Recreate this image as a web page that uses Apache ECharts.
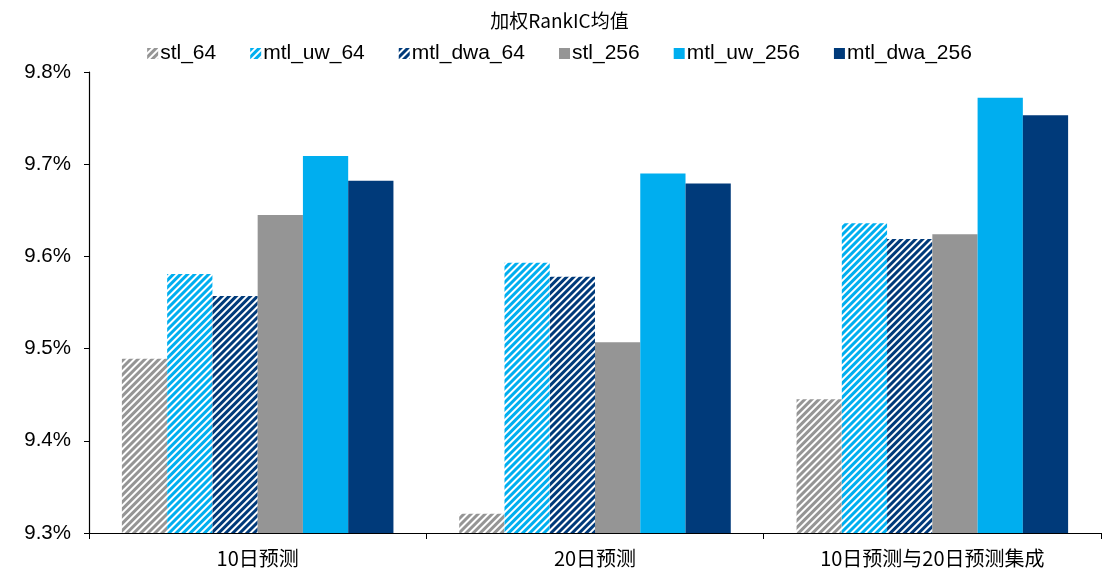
<!DOCTYPE html>
<html><head><meta charset="utf-8">
<script src="https://cdn.jsdelivr.net/npm/echarts@6/dist/echarts.min.js"></script>
<style>html,body{margin:0;padding:0;background:#fff}#c{width:1119px;height:582px}</style>
</head><body><div id="c"></div>
<script>
const categories = ['10日预测', '20日预测', '10日预测与20日预测集成'];
const seriesNames = ['stl_64', 'mtl_uw_64', 'mtl_dwa_64', 'stl_256', 'mtl_uw_256', 'mtl_dwa_256'];
const stl_64 = [9.489, 9.321, 9.445];
const mtl_uw_64 = [9.581, 9.593, 9.636];
const mtl_dwa_64 = [9.557, 9.578, 9.619];
const stl_256 = [9.645, 9.507, 9.624];
const mtl_uw_256 = [9.709, 9.690, 9.772];
const mtl_dwa_256 = [9.682, 9.679, 9.753];
const yTicks = [9.3, 9.4, 9.5, 9.6, 9.7, 9.8];

const values = [stl_64, mtl_uw_64, mtl_dwa_64, stl_256, mtl_uw_256, mtl_dwa_256];
const colors = ['#959595', '#00AEEF', '#003A7A', '#959595', '#00AEEF', '#003A7A'];
const striped = [true, true, true, false, false, false];

const chart = echarts.init(document.getElementById('c'), null, {renderer: 'canvas'});
const series = seriesNames.map((n, i) => {
  const s = {
    name: n, type: 'bar', data: values[i],
    barGap: '0%', barCategoryGap: '19.5%',
    itemStyle: {color: colors[i]}
  };
  if (striped[i]) {
    s.itemStyle = {
      color: '#ffffff',
      decal: {symbol: 'rect', symbolSize: 1, dashArrayX: [1, 0], dashArrayY: [2.3, 2],
              rotation: -Math.PI / 4, color: colors[i], backgroundColor: '#ffffff'}
    };
  }
  return s;
});

chart.setOption({
  animation: false,
  title: {text: '加权RankIC均值', left: 'center', top: 6,
    textStyle: {fontFamily: 'Noto Sans CJK SC', fontSize: 19, fontWeight: 'normal', color: '#000'}},
  legend: {data: seriesNames, top: 38, left: 'center', itemWidth: 11, itemHeight: 11, itemGap: 34,
    icon: 'rect',
    textStyle: {fontFamily: 'Liberation Sans', fontSize: 21, color: '#000', padding: [0, 0, 0, -3]}},
  grid: {left: 89, right: 18, top: 72, bottom: 49},
  xAxis: {type: 'category', data: categories,
    axisLine: {lineStyle: {color: '#000', width: 1.2}},
    axisTick: {show: true, inside: false, length: 6, lineStyle: {color: '#000'}},
    axisLabel: {fontFamily: 'Noto Sans CJK SC', fontSize: 20, color: '#000', margin: 15}},
  yAxis: {type: 'value', min: 9.3, max: 9.8, interval: 0.1,
    axisLine: {show: true, lineStyle: {color: '#000', width: 1.2}},
    axisTick: {show: true, length: 5, lineStyle: {color: '#000'}},
    splitLine: {show: false},
    axisLabel: {fontFamily: 'Liberation Sans', fontSize: 20.5, color: '#000', margin: 18,
      formatter: v => v.toFixed(1) + '%'}},
  series: series
});
</script></body></html>
